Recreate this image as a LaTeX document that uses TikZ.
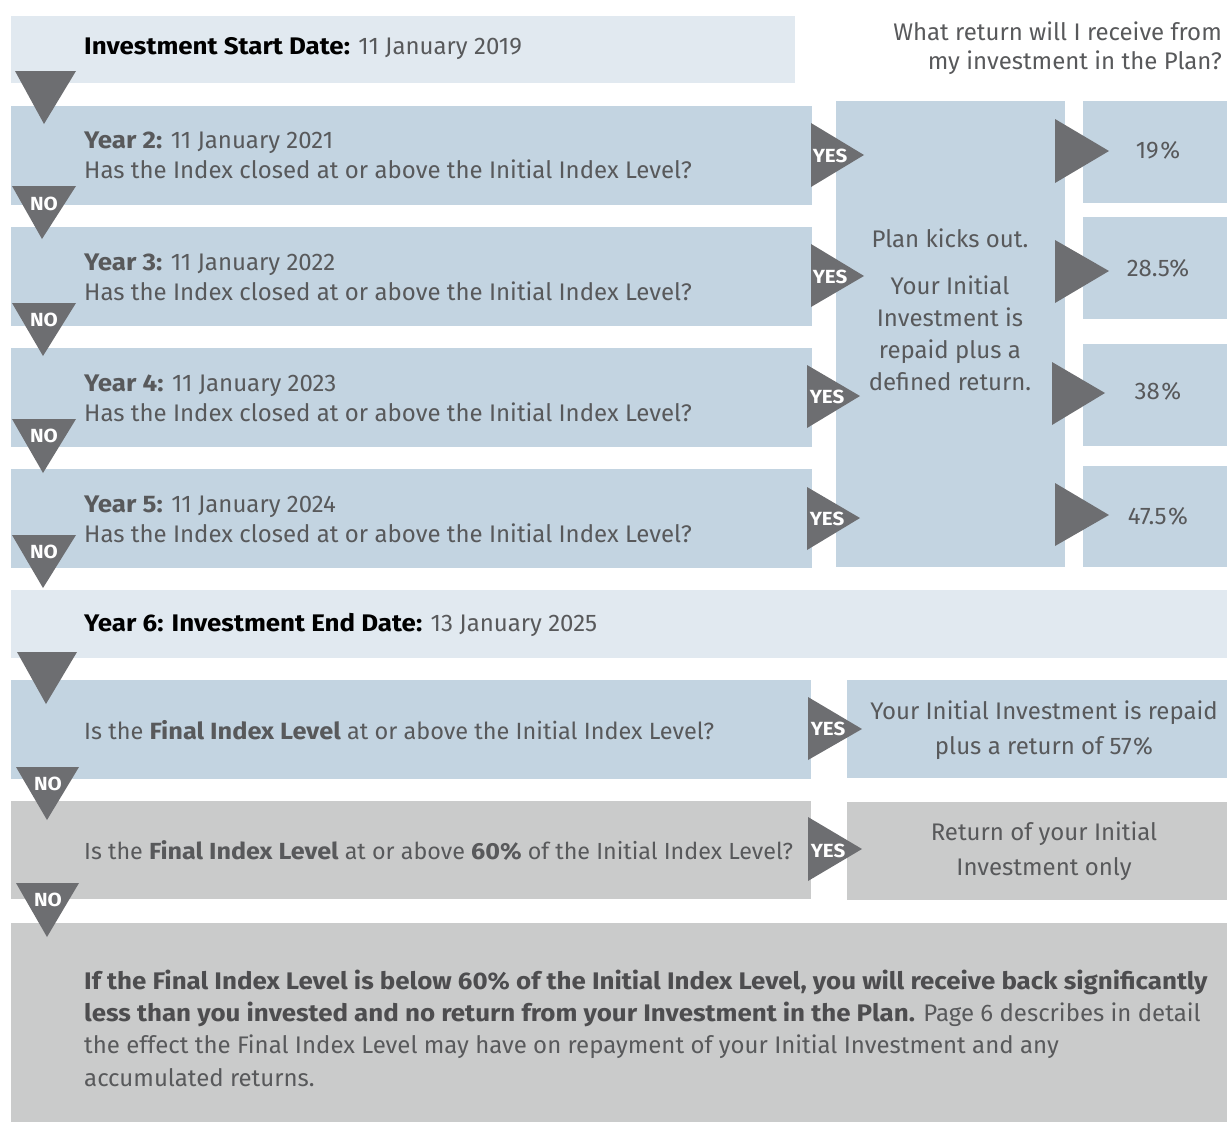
\documentclass[tikz,border=0pt]{standalone}
\usepackage{fontspec}
\setmainfont{Fira Sans}[BoldFeatures={FakeStretch=1.08}]
\definecolor{startc}{HTML}{E1E9F0}
\definecolor{bluec}{HTML}{C3D4E1}
\definecolor{greyc}{HTML}{CACBCB}
\definecolor{tric}{HTML}{6D6E71}
\definecolor{txtc}{HTML}{58595B}
\definecolor{boldc}{HTML}{4D4D4F}
\begin{document}
\begin{tikzpicture}[x=1pt,y=-1pt,
  panel/.style={anchor=north west, inner sep=0pt, draw=none},
  lightpanel/.style={panel, fill=startc},
  bluepanel/.style={panel, fill=bluec},
  greypanel/.style={panel, fill=greyc},
  tri/.style={fill=tric, draw=none},
  lab/.style={text=white, font=\fontsize{19}{19}\selectfont\bfseries, inner sep=0pt},
  body/.style={text=txtc, font=\fontsize{24}{30}\selectfont, inner sep=0pt, align=left, anchor=west},
  cbody/.style={text=txtc, font=\fontsize{24}{33}\selectfont, inner sep=0pt, align=center}
]
\useasboundingbox (0,0) rectangle (1227,1122);
% panels
\node[lightpanel, minimum width=784pt, minimum height=67pt] (start) at (11,16) {};
\node[bluepanel, minimum width=801pt, minimum height=99pt] (y2) at (11,106) {};
\node[bluepanel, minimum width=801pt, minimum height=99pt] (y3) at (11,227) {};
\node[bluepanel, minimum width=801pt, minimum height=99pt] (y4) at (11,348) {};
\node[bluepanel, minimum width=801pt, minimum height=99pt] (y5) at (11,469) {};
\node[bluepanel, minimum width=229pt, minimum height=466pt] (kick) at (836,101) {};
\node[bluepanel, minimum width=144pt, minimum height=102pt] (r1) at (1083,101) {};
\node[bluepanel, minimum width=144pt, minimum height=102pt] (r2) at (1083,217) {};
\node[bluepanel, minimum width=144pt, minimum height=102pt] (r3) at (1083,344) {};
\node[bluepanel, minimum width=144pt, minimum height=101pt] (r4) at (1083,466) {};
\node[lightpanel, minimum width=1216pt, minimum height=68pt] (y6) at (11,590) {};
\node[bluepanel, minimum width=800pt, minimum height=99pt] (fq) at (11,680) {};
\node[bluepanel, minimum width=380pt, minimum height=98pt] (fa) at (847,680) {};
\node[greypanel, minimum width=800pt, minimum height=98pt] (sq) at (11,801) {};
\node[greypanel, minimum width=380pt, minimum height=98pt] (sa) at (847,802) {};
\node[greypanel, minimum width=1216pt, minimum height=199pt] (low) at (11,923) {};
% down triangles
\fill[tri] (15,71) -- (76,71) -- (44,124) -- cycle;
\fill[tri] (12,186) -- (76,186) -- (42,239) -- cycle;
\fill[tri] (12,303) -- (76,303) -- (43,356) -- cycle;
\fill[tri] (12,419) -- (76,419) -- (43,473) -- cycle;
\fill[tri] (12,535) -- (76,535) -- (43,588) -- cycle;
\fill[tri] (17,652) -- (77,652) -- (46,704) -- cycle;
\fill[tri] (16,767) -- (79,767) -- (47,820) -- cycle;
\fill[tri] (16,883) -- (79,883) -- (47,937) -- cycle;
\node[lab] (no1) at (44,204) {NO};
\node[lab] (no2) at (44,320) {NO};
\node[lab] (no3) at (44,436) {NO};
\node[lab] (no4) at (44,552) {NO};
\node[lab] (no5) at (48,784) {NO};
\node[lab] (no6) at (48,900) {NO};
% yes triangles
\fill[tri] (811,123) -- (811,187) -- (864,155) -- cycle;
\fill[tri] (811,244) -- (811,307) -- (864,276) -- cycle;
\fill[tri] (807,365) -- (807,428) -- (860,396) -- cycle;
\fill[tri] (807,487) -- (807,550) -- (860,518) -- cycle;
\fill[tri] (808,697) -- (808,760) -- (862,729) -- cycle;
\fill[tri] (808,817) -- (808,881) -- (862,849) -- cycle;
\node[lab] (yes1) at (830,156) {YES};
\node[lab] (yes2) at (830,277) {YES};
\node[lab] (yes3) at (827,397) {YES};
\node[lab] (yes4) at (827,519) {YES};
\node[lab] (yes5) at (828,729) {YES};
\node[lab] (yes6) at (828,851) {YES};
% result triangles
\fill[tri] (1055,119) -- (1055,183) -- (1109,151) -- cycle;
\fill[tri] (1055,240) -- (1055,303) -- (1109,271) -- cycle;
\fill[tri] (1052,362) -- (1052,425) -- (1105,393) -- cycle;
\fill[tri] (1055,483) -- (1055,546) -- (1109,515) -- cycle;
% texts
\node[body] (tstart) at (84,49) {\textcolor{black}{\bfseries Investment Start Date:} 11 January 2019};
\node[body, align=right, anchor=east, font=\fontsize{24}{29}\selectfont] (tq) at (1222,48) {What return will I receive from\\my investment in the Plan?};
\node[body] (t2) at (84,155.5) {{\bfseries Year 2:} 11 January 2021\\Has the Index closed at or above the Initial Index Level?};
\node[body] (t3) at (84,277) {{\bfseries Year 3:} 11 January 2022\\Has the Index closed at or above the Initial Index Level?};
\node[body] (t4) at (84,398) {{\bfseries Year 4:} 11 January 2023\\Has the Index closed at or above the Initial Index Level?};
\node[body] (t5) at (84,519) {{\bfseries Year 5:} 11 January 2024\\Has the Index closed at or above the Initial Index Level?};
\node[cbody, font=\fontsize{24}{32}\selectfont] (tk) at (950,310) {Plan kicks out.\\[15pt]Your Initial\\Investment is\\repaid plus a\\defined return.};
\node[cbody] (p1) at (1158,150) {19\hspace{1.5pt}\%};
\node[cbody] (p2) at (1158,268) {28.5\%};
\node[cbody] (p3) at (1158,391) {38\hspace{1.5pt}\%};
\node[cbody] (p4) at (1158,516) {47.5\hspace{1.5pt}\%};
\node[body] (t6) at (84,625) {\textcolor{black}{\bfseries Year 6: Investment End Date:} 13 January 2025};
\node[body, font=\fontsize{23.5}{30}\selectfont] (tfq) at (84,730) {Is the {\bfseries Final Index Level} at or above the Initial Index Level?};
\node[cbody, font=\fontsize{24}{35}\selectfont] (tfa) at (1044,730) {Your Initial Investment is repaid\\plus a return of 57\hspace{1.5pt}\%};
\node[body, font=\fontsize{23.3}{30}\selectfont] (tsq) at (84,851) {Is the {\bfseries Final Index Level} at or above {\bfseries 60\%} of the Initial Index Level?};
\node[cbody, font=\fontsize{24}{35}\selectfont] (tsa) at (1044,851) {Return of your Initial\\Investment only};
\node[body, font=\fontsize{24}{32.3}\selectfont] (tlow) at (84,1028) {\textcolor{boldc}{\bfseries If the Final Index Level is below 60\% of the Initial Index Level, you will receive back significantly}\\\textcolor{boldc}{\bfseries less than you invested and no return from your Investment in the Plan.} Page 6 describes in detail\\the effect the Final Index Level may have on repayment of your Initial Investment and any\\accumulated returns.};
\end{tikzpicture}
\end{document}
